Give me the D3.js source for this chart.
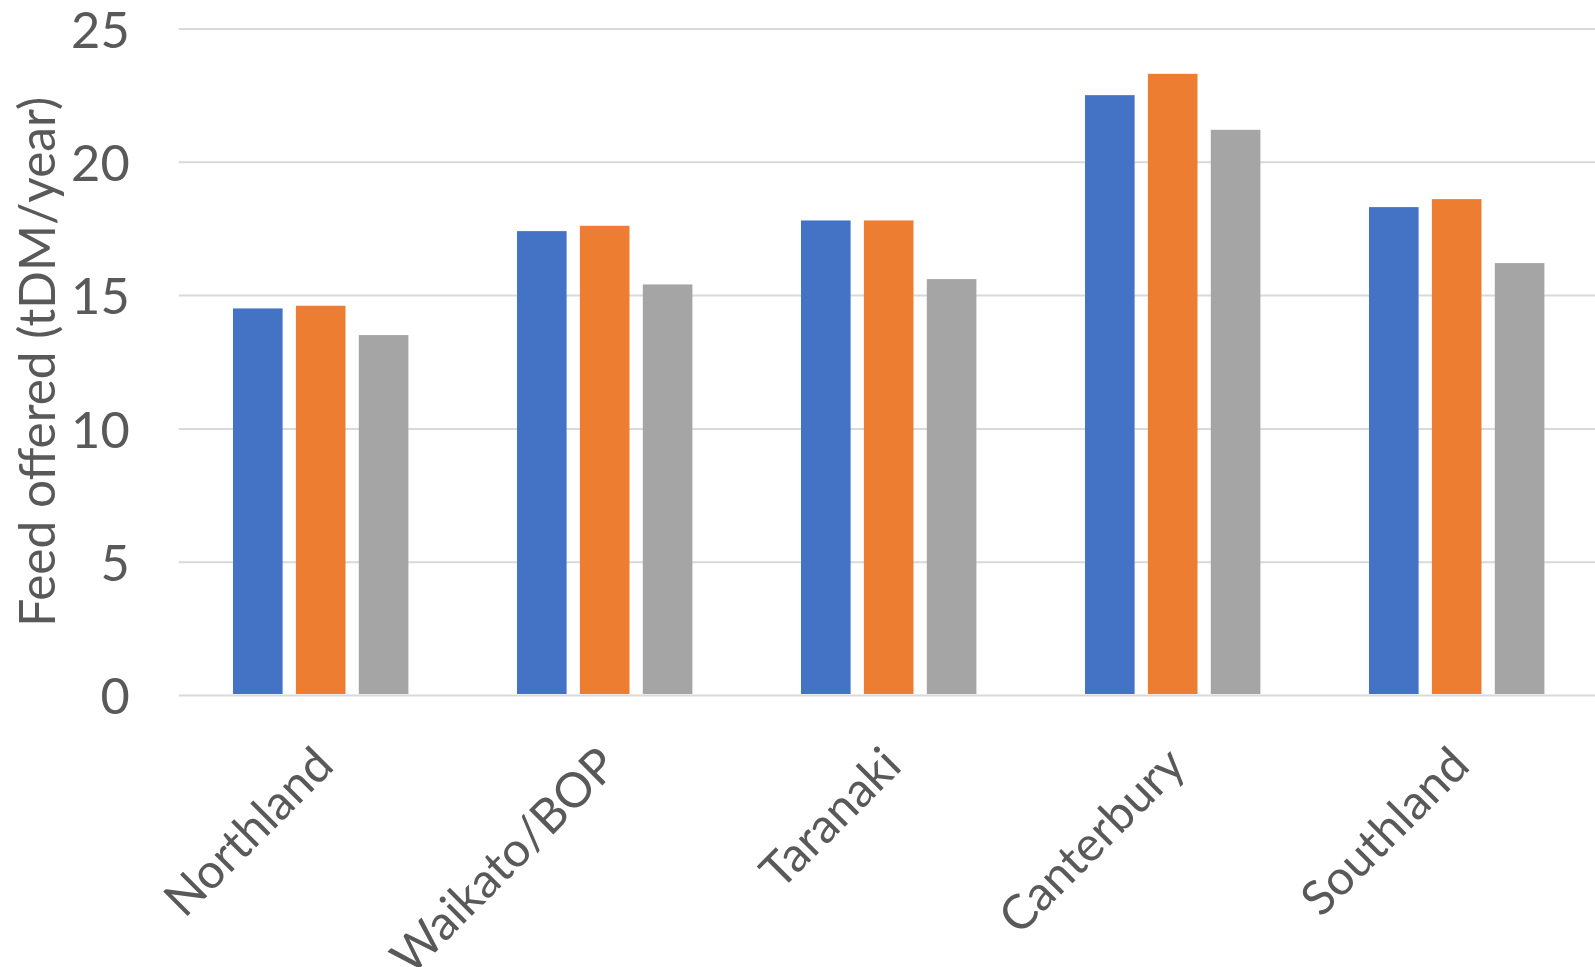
<!DOCTYPE html>
<html>
<head>
<meta charset="utf-8">
<script src="https://cdn.jsdelivr.net/npm/d3@7"></script>
<style>
  html, body { margin: 0; padding: 0; background: #ffffff; }
  svg { display: block; }
  text { font-family: Lato, "Open Sans", sans-serif; fill: #595959; }
</style>
</head>
<body>
<svg id="chart" width="1595" height="967"></svg>
<script>
// ---- data ----
const categories = ["Northland", "Waikato/BOP", "Taranaki", "Canterbury", "Southland"];
const seriesNames = ["Series 1", "Series 2", "Series 3"];
const series1 = [14.5, 17.4, 17.8, 22.5, 18.3];
const series2 = [14.6, 17.6, 17.8, 23.3, 18.6];
const series3 = [13.5, 15.4, 15.6, 21.2, 16.2];
const yTicks = [0, 5, 10, 15, 20, 25];
const yTitle = "Feed offered (tDM/year)";

// ---- layout ----
const W = 1595, H = 967;
const plot = { left: 178.7, right: 1598.7, top: 28.5, bottom: 695 };
const colors = ["#4472C4", "#ED7D31", "#A5A5A5"];
const seriesValues = [series1, series2, series3];

const svg = d3.select("#chart");
svg.append("rect").attr("width", W).attr("height", H).attr("fill", "#ffffff");

const x0 = d3.scaleBand().domain(categories).range([plot.left, plot.right]).padding(0);
const x1 = d3.scaleBand().domain(seriesNames)
  .range([x0.bandwidth() * 0.1912, x0.bandwidth() * 0.8088]).paddingInner(0.2115).paddingOuter(0);
const y = d3.scaleLinear().domain([0, 25]).range([plot.bottom, plot.top]);
const color = d3.scaleOrdinal().domain(seriesNames).range(colors);

// font size fitted to title length (Calibri substitute)
const probe = svg.append("text").attr("font-size", 50).text(yTitle);
const probeLen = probe.node().getComputedTextLength();
probe.remove();
const fs = 50 * 530 / probeLen;

// y axis with gridlines
const yAxis = svg.append("g")
  .attr("transform", `translate(${plot.left},0)`)
  .call(d3.axisLeft(y).tickValues(yTicks).tickFormat(d3.format("d"))
    .tickSize(-(W - plot.left)).tickPadding(49));
yAxis.select(".domain").remove();
yAxis.selectAll(".tick line").attr("stroke", "#d9d9d9").attr("stroke-width", 2);
yAxis.selectAll(".tick text")
  .attr("font-size", fs * 1.02).attr("fill", "#595959")
  .attr("font-family", "Lato, 'Open Sans', sans-serif")
  .attr("dy", "0.37em");

// bars
const rows = categories.map((c, i) => ({ cat: c, vals: seriesNames.map((s, j) => ({ s, v: seriesValues[j][i] })) }));
const groups = svg.append("g").selectAll("g").data(rows).join("g")
  .attr("transform", d => `translate(${x0(d.cat)},0)`);
groups.selectAll("rect").data(d => d.vals).join("rect")
  .attr("x", d => x1(d.s))
  .attr("width", x1.bandwidth())
  .attr("y", d => y(d.v))
  .attr("height", d => y(0) - 1 - y(d.v))
  .attr("fill", d => color(d.s));

// x axis labels
const xAxis = svg.append("g")
  .attr("transform", `translate(0,${plot.bottom})`)
  .call(d3.axisBottom(x0).tickSize(0));
xAxis.select(".domain").remove();
xAxis.selectAll(".tick text")
  .attr("font-size", fs * 0.97).attr("fill", "#595959")
  .attr("font-family", "Lato, 'Open Sans', sans-serif")
  .attr("text-anchor", "end")
  .attr("dy", null)
  .attr("y", 0)
  .attr("transform", "translate(15,73) rotate(-45)");

// y title
svg.append("text")
  .attr("font-size", fs)
  .attr("text-anchor", "middle")
  .attr("transform", `translate(55,${(plot.top + plot.bottom) / 2}) rotate(-90)`)
  .text(yTitle);
</script>
</body>
</html>
